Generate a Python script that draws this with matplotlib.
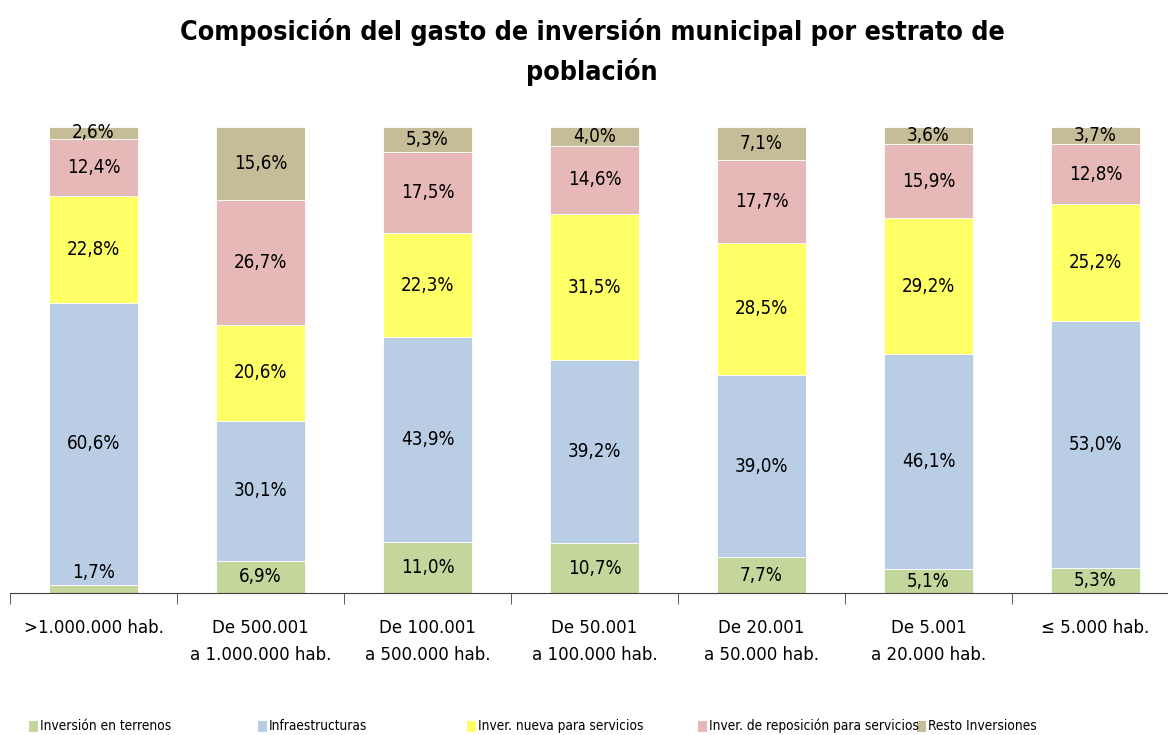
import matplotlib
matplotlib.use('Agg')
import matplotlib.pyplot as plt
from matplotlib.patches import Rectangle
import numpy as np

plt.rcParams['font.family'] = ['DejaVu Sans']
plt.rcParams['font.stretch'] = 'condensed'

# Data (% of municipal investment spend)
estratos = ['>1.000.000 hab.', 'De 500.001\na 1.000.000 hab.', 'De 100.001\na 500.000 hab.',
            'De 50.001\na 100.000 hab.', 'De 20.001\na 50.000 hab.', 'De 5.001\na 20.000 hab.',
            '≤ 5.000 hab.']
series = ['Inversión en terrenos', 'Infraestructuras', 'Inver. nueva para servicios',
          'Inver. de reposición para servicios', 'Resto Inversiones']
terrenos = [1.7, 6.9, 11.0, 10.7, 7.7, 5.1, 5.3]
infraestructuras = [60.6, 30.1, 43.9, 39.2, 39.0, 46.1, 53.0]
nueva = [22.8, 20.6, 22.3, 31.5, 28.5, 29.2, 25.2]
reposicion = [12.4, 26.7, 17.5, 14.6, 17.7, 15.9, 12.8]
resto = [2.6, 15.6, 5.3, 4.0, 7.1, 3.6, 3.7]
colors = ['#C3D69B', '#B9CDE5', '#FFFF66', '#E6B9B8', '#C4BD97']

values = [terrenos, infraestructuras, nueva, reposicion, resto]

W, H = 1168, 735
fig = plt.figure(figsize=(W / 100, H / 100), dpi=100)
ax = fig.add_axes([10 / W, 1 - 593 / H, 1169 / W, (593 - 127) / H])

x = np.arange(len(estratos))
bottom = np.zeros(len(estratos))
for vals, col in zip(values, colors):
    vals = np.array(vals)
    ax.bar(x, vals, width=0.53, bottom=bottom, color=col, edgecolor='white', linewidth=0.6)
    for xi, b, v in zip(x, bottom, vals):
        yc = b + v / 2
        if v < 2:
            yc += 3.5
        ax.text(xi, yc, ('%.1f%%' % v).replace('.', ','), ha='center', va='center',
                fontsize=13.5, color='black')
    bottom += vals

ax.set_xlim(-0.5, len(estratos) - 0.5)
ax.set_ylim(0, 100)
for s in ['top', 'right', 'left']:
    ax.spines[s].set_visible(False)
ax.spines['bottom'].set_color('#404040')
ax.set_yticks([])
ax.set_xticks(x)
ax.set_xticklabels(estratos, fontsize=13.3, linespacing=1.6)
ax.tick_params(axis='x', which='major', length=0, pad=19)
ax.set_xticks(np.arange(len(estratos) + 1) - 0.5, minor=True)
ax.tick_params(axis='x', which='minor', length=8, color='#404040', direction='out')

fig.text(592 / W, 1 - 52 / H, 'Composición del gasto de inversión municipal por estrato de\npoblación',
         ha='center', va='center', fontsize=19.3, fontweight='bold', linespacing=1.55)

# legend drawn along the bottom edge, as in the reference
leg_x = [29, 258, 467, 698, 917]
for lx, name, col in zip(leg_x, series, colors):
    fig.patches.append(Rectangle((lx / W, 1 - 732 / H), 9 / W, 11 / H, transform=fig.transFigure,
                                 facecolor=col, edgecolor='none'))
    fig.text((lx + 11) / W, 1 - 726 / H, name, ha='left', va='center', fontsize=9.8)

fig.savefig('out.png', dpi=100)
